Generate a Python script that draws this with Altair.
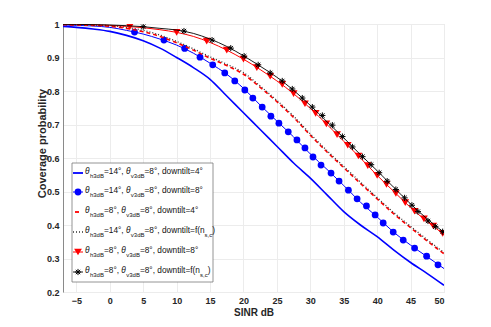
import altair as alt
import pandas as pd

# ---------------- data ----------------
sinr = [-7, -5, -2.5, 0, 2.5, 5, 7.5, 10, 12.5, 15, 17.5, 20, 22.5, 25,
        27.5, 30, 32.5, 35, 37.5, 40, 42.5, 45, 47.5, 50]

# h14 v8 downtilt 4 (blue solid)
cov_h14_dt4 = [0.993, 0.990, 0.985, 0.978, 0.966, 0.950, 0.928, 0.900, 0.870, 0.835,
               0.785, 0.735, 0.685, 0.635, 0.585, 0.540, 0.490, 0.440, 0.400, 0.365,
               0.325, 0.288, 0.255, 0.220]
# h14 v8 downtilt 8 (blue circles)
cov_h14_dt8 = [0.997, 0.996, 0.994, 0.990, 0.981, 0.970, 0.955, 0.937, 0.913, 0.883,
               0.850, 0.808, 0.758, 0.710, 0.663, 0.612, 0.566, 0.518, 0.468, 0.424,
               0.378, 0.340, 0.305, 0.270]
# h8 v8 downtilt 4 (red dashed)
cov_h8_dt4 = [0.998, 0.997, 0.996, 0.993, 0.987, 0.977, 0.963, 0.944, 0.922, 0.898,
              0.876, 0.850, 0.811, 0.768, 0.721, 0.668, 0.618, 0.571, 0.524, 0.478,
              0.433, 0.392, 0.352, 0.314]
# h14 v8 downtilt f(n) (black dotted)
cov_h14_dtf = [0.998, 0.998, 0.997, 0.995, 0.990, 0.981, 0.967, 0.948, 0.926, 0.902,
               0.880, 0.855, 0.815, 0.772, 0.725, 0.672, 0.622, 0.575, 0.528, 0.482,
               0.437, 0.396, 0.356, 0.318]
# h8 v8 downtilt 8 (red triangles)
cov_h8_dt8 = [0.999, 0.999, 0.998, 0.996, 0.993, 0.989, 0.983, 0.975, 0.963, 0.945,
              0.922, 0.895, 0.864, 0.830, 0.792, 0.748, 0.700, 0.650, 0.600, 0.548,
              0.500, 0.452, 0.410, 0.372]
# h8 v8 downtilt f(n) (black stars)
cov_h8_dtf = [0.999, 0.999, 0.998, 0.997, 0.995, 0.992, 0.987, 0.982, 0.972, 0.955,
              0.933, 0.905, 0.874, 0.841, 0.802, 0.757, 0.708, 0.660, 0.610, 0.562,
              0.512, 0.463, 0.418, 0.378]

# marker positions
circ_x = [3.7, 8.1, 11.2, 13.5, 15.4, 17.2, 18.7, 20.2, 21.4, 22.8, 24.1, 25.3, 26.7,
          28.0, 29.2, 30.4, 31.6, 33.1, 34.3, 35.7, 37.0, 38.4, 39.7, 40.9, 42.4,
          43.9, 45.6, 47.4, 49.1]
circ_y = [0.976, 0.952, 0.927, 0.901, 0.878, 0.854, 0.830, 0.803, 0.779, 0.752, 0.725,
          0.704, 0.678, 0.654, 0.630, 0.603, 0.579, 0.555, 0.531, 0.504, 0.478, 0.457,
          0.430, 0.406, 0.379, 0.355, 0.331, 0.307, 0.281]

tri_x = [3.0, 10.0, 14.5, 17.5, 20.0, 22.0, 24.0, 25.8, 27.5, 29.2, 30.8, 32.4, 34.0,
         35.6, 37.2, 38.6, 40.0, 41.4, 42.8, 44.2, 45.6, 47.0, 48.4, 49.8]
tri_y = [0.992, 0.975, 0.949, 0.922, 0.895, 0.870, 0.844, 0.820, 0.792, 0.762, 0.733,
         0.702, 0.670, 0.638, 0.606, 0.577, 0.548, 0.521, 0.494, 0.467, 0.441, 0.418,
         0.397, 0.375]

star_x = [5.0, 11.1, 15.3, 18.1, 20.1, 22.2, 24.0, 25.8, 27.3, 28.8, 30.3, 31.8, 33.3,
          34.8, 36.3, 37.8, 39.1, 40.3, 41.5, 42.8, 44.1, 45.2, 46.1, 47.6, 48.7, 49.8]
star_y = [0.992, 0.979, 0.952, 0.928, 0.904, 0.878, 0.854, 0.830, 0.806, 0.779, 0.752,
          0.727, 0.698, 0.664, 0.633, 0.604, 0.580, 0.556, 0.531, 0.506, 0.481, 0.459,
          0.440, 0.412, 0.395, 0.380]

x_ticks = [-5, 0, 5, 10, 15, 20, 25, 30, 35, 40, 45, 50]
y_ticks = [0.2, 0.3, 0.4, 0.5, 0.6, 0.7, 0.8, 0.9, 1.0]

legend_h = ["14", "14", "8", "14", "8", "8"]
legend_tail = ["=8°, downtilt=4°", "=8°, downtilt=8°", "=8°, downtilt=4°",
               "=8°, downtilt=f(n", "=8°, downtilt=8°", "=8°, downtilt=f(n"]
legend_nsub = [False, False, False, True, False, True]

# ---------------- layout ----------------
XMIN, XMAX = -7, 50
YMIN, YMAX = 0.2, 1.0
W, H = 381, 268
LEFT, TOP = 63, 24          # page pixel position of plot origin

FONT = "Liberation Sans"
TXT = "#262626"
BLUE, RED, BLACK = "#0000ff", "#ff0000", "#000000"
ASTERISK = "M0,-1L0,1M-1,0L1,0M-0.7,-0.7L0.7,0.7M-0.7,0.7L0.7,-0.7"

xscale = alt.Scale(domain=[XMIN, XMAX], nice=False, zero=False)
yscale = alt.Scale(domain=[YMIN, YMAX], nice=False, zero=False)

xaxis = alt.Axis(values=x_ticks, title="SINR dB", grid=True, gridColor="#ececec",
                 ticks=False, domain=False, labelPadding=4, labelFont=FONT,
                 labelFontSize=9, labelFontWeight="bold", labelColor=TXT,
                 titleFont=FONT, titleFontSize=10, titleFontWeight="bold",
                 titleColor=TXT, titlePadding=2)
yaxis = alt.Axis(values=y_ticks, format=".1~f", title="Coverage probability",
                 grid=True, gridColor="#ececec", ticks=False, domain=True,
                 domainColor="#8a8a8a", labelPadding=4, labelFont=FONT,
                 labelFontSize=9, labelFontWeight="bold", labelColor=TXT,
                 titleFont=FONT, titleFontSize=11, titleFontWeight="bold",
                 titleColor=TXT, titleX=-21, titleY=119, titleBaseline="middle")


def px2x(p):
    return XMIN + (p - LEFT) / W * (XMAX - XMIN)


def px2y(p):
    return YMAX - (p - TOP) / H * (YMAX - YMIN)


X = lambda: alt.X("x:Q", scale=xscale, axis=xaxis)
Y = lambda: alt.Y("y:Q", scale=yscale, axis=yaxis)


def line(ys, color, width, dash=None):
    kw = dict(color=color, strokeWidth=width, interpolate="monotone", clip=True)
    if dash:
        kw["strokeDash"] = dash
    return alt.Chart(pd.DataFrame({"x": sinr, "y": ys})).mark_line(**kw).encode(x=X(), y=Y())


def points(xs, ys, **kw):
    return alt.Chart(pd.DataFrame({"x": xs, "y": ys})).mark_point(clip=True, **kw).encode(x=X(), y=Y())


circle_style = dict(shape="circle", filled=True, color=BLUE, size=46, opacity=1)
tri_style = dict(shape="triangle-down", filled=True, color=RED, size=60, opacity=1)
star_style = dict(shape=ASTERISK, filled=False, color=BLACK, size=38, strokeWidth=1, opacity=1)

layers = [
    line(cov_h14_dt4, BLUE, 1.6),
    line(cov_h14_dt8, BLUE, 1.0),
    points(circ_x, circ_y, **circle_style),
    line(cov_h8_dt4, RED, 1.6, [4, 3]),
    line(cov_h14_dtf, "#333333", 1.3, [1, 2]),
    line(cov_h8_dt8, RED, 1.0),
    points(tri_x, tri_y, **tri_style),
    line(cov_h8_dtf, BLACK, 0.9),
    points(star_x, star_y, **star_style),
]

# ---------------- legend ----------------
box = pd.DataFrame({"x": [px2x(72)], "x2": [px2x(213)], "y": [px2y(163)], "y2": [px2y(282)]})
layers.append(alt.Chart(box).mark_rect(fill="white", stroke="#7a7a7a", strokeWidth=0.8).encode(
    x=alt.X("x:Q", scale=xscale, axis=xaxis), x2="x2:Q",
    y=alt.Y("y:Q", scale=yscale, axis=yaxis), y2="y2:Q"))

row_py = [173, 192, 212, 232, 252, 272]
sample_styles = [
    dict(color=BLUE, strokeWidth=1.8),
    dict(color=BLUE, strokeWidth=1.0),
    dict(color=RED, strokeWidth=1.8, strokeDash=[4, 3]),
    dict(color="#333333", strokeWidth=1.3, strokeDash=[1, 2]),
    dict(color=RED, strokeWidth=1.0),
    dict(color=BLACK, strokeWidth=0.9),
]
for i, st in enumerate(sample_styles):
    x0, x1 = (73, 83) if i != 2 else (75, 81)
    d = pd.DataFrame({"x": [px2x(x0)], "x2": [px2x(x1)], "y": [px2y(row_py[i])]})
    layers.append(alt.Chart(d).mark_rule(**st).encode(
        x=alt.X("x:Q", scale=xscale, axis=xaxis), x2="x2:Q",
        y=alt.Y("y:Q", scale=yscale, axis=yaxis)))

for i, st in [(1, circle_style), (4, tri_style), (5, star_style)]:
    layers.append(points([px2x(78)], [px2y(row_py[i])], **st))

# Arial / Liberation Sans regular advance widths (per 1000 em)
WID = {c: 556 for c in "0123456789"}
WID.update({"=": 584, "°": 400, ",": 278, " ": 278, "d": 556, "o": 556, "w": 722,
            "n": 556, "t": 278, "i": 222, "l": 222, "f": 278, "(": 333, ")": 333,
            "h": 556, "v": 500, "B": 667, "s": 500, "c": 500, "θ": 556})


def tw(s, size):
    return sum(WID.get(c, 556) for c in s) * size / 1000


MAIN, SUB = 8.3, 6.0
main_rows, sub_rows, theta_rows = [], [], []
for i in range(6):
    py = row_py[i]
    cx = 85.0
    pieces = [("θ", "t"), ("h3dB", "s"), ("=" + legend_h[i] + "°, ", "m"),
              ("θ", "t"), ("v3dB", "s"), (legend_tail[i], "m")]
    if legend_nsub[i]:
        pieces += [("s,c", "s"), (")", "m")]
    for txt, kind in pieces:
        if kind == "t":
            theta_rows.append({"x": px2x(cx), "y": px2y(py - 1), "t": txt})
            cx += tw(txt, MAIN) + 0.3
        elif kind == "s":
            sub_rows.append({"x": px2x(cx), "y": px2y(py + 3), "t": txt})
            cx += tw(txt, SUB)
        else:
            main_rows.append({"x": px2x(cx), "y": px2y(py - 1), "t": txt})
            cx += tw(txt, MAIN)

for rows, size, style in [(main_rows, MAIN, "normal"), (sub_rows, SUB, "normal"),
                          (theta_rows, MAIN, "italic")]:
    layers.append(alt.Chart(pd.DataFrame(rows)).mark_text(
        align="left", baseline="middle", font=FONT, fontSize=size,
        fontStyle=style, color="#111111").encode(
        x=alt.X("x:Q", scale=xscale, axis=xaxis),
        y=alt.Y("y:Q", scale=yscale, axis=yaxis), text="t:N"))

chart = alt.layer(*layers).properties(
    width=W, height=H,
    autosize=alt.AutoSizeParams(type="none"),
    padding={"left": LEFT - 8, "top": TOP - 8, "right": 30, "bottom": 26},
).configure_view(stroke=None).configure(background="white")

chart.save("out.html", embed_options={"renderer": "svg", "actions": False})
